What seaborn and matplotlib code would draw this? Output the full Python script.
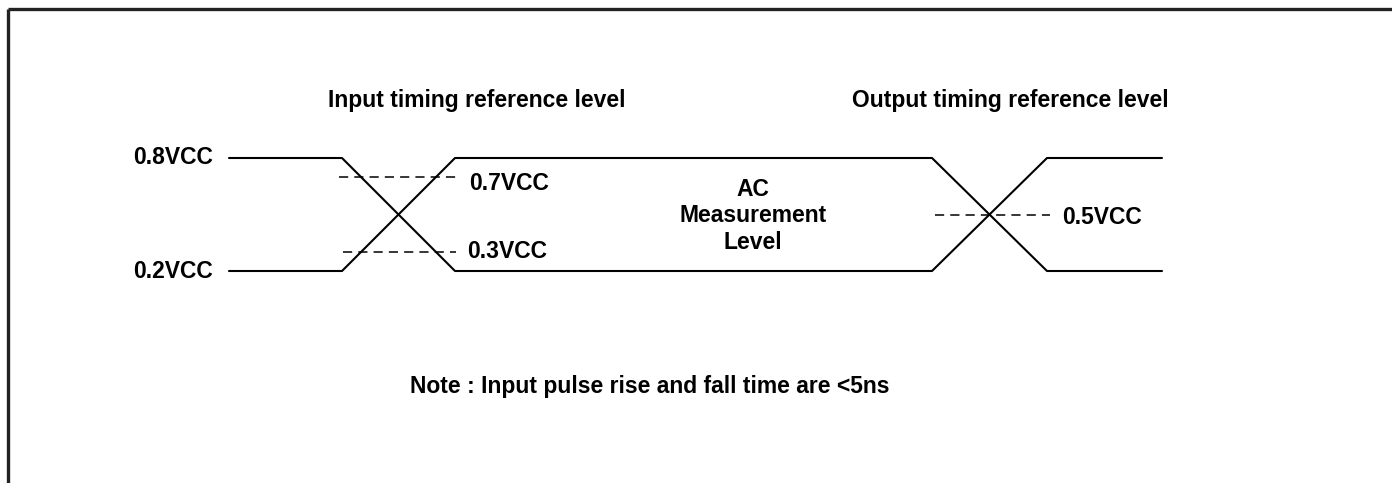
import pandas as pd
import matplotlib
matplotlib.use("Agg")
import matplotlib.pyplot as plt
import seaborn as sns

# time axis (arbitrary units) and voltage levels as fraction of VCC
t_points = [229, 342, 455, 932, 1047, 1162]
sig_a = [0.8, 0.8, 0.2, 0.2, 0.8, 0.8]
sig_b = [0.2, 0.2, 0.8, 0.8, 0.2, 0.2]

ref_levels = [0.7, 0.3, 0.5]
ref_start = [339, 343, 935]
ref_end = [456, 456, 1050]
ref_labels = ["0.7VCC", "0.3VCC", "0.5VCC"]

rail_levels = [0.8, 0.2]
rail_labels = ["0.8VCC", "0.2VCC"]

W, H = 1392, 483
PX_PER_V = 113 / 0.6


def yv(p):
    # pixel row -> VCC units
    return 0.8 - (p - 158) / PX_PER_V


sns.set_style("white")
plt.rcParams["font.family"] = ["Liberation Sans", "DejaVu Sans"]

fig = plt.figure(figsize=(W / 100, H / 100), dpi=100)
ax = fig.add_axes([0, 0, 1, 1])

wave = pd.DataFrame({
    "t": t_points * 2,
    "v": sig_a + sig_b,
    "sig": ["a"] * len(t_points) + ["b"] * len(t_points),
})
for name, grp in wave.groupby("sig"):
    sns.lineplot(data=grp, x="t", y="v", sort=False, color="black",
                 linewidth=1.5, ax=ax, legend=False)

for lv, x0, x1 in zip(ref_levels, ref_start, ref_end):
    ref = pd.DataFrame({"t": [x0, x1], "v": [lv, lv]})
    sns.lineplot(data=ref, x="t", y="v", color="black", linewidth=1.1,
                 linestyle=(0, (6, 4)), ax=ax, legend=False)

ax.set_xlim(0, W)
ax.set_ylim(yv(H), yv(0))
ax.axis("off")

# frame (only top/left edges are visible in the crop)
ax.plot([8, W], [yv(9), yv(9)], color="#222222", lw=2.4, solid_capstyle="butt")
ax.plot([8, 8], [yv(9), yv(H)], color="#222222", lw=2.4, solid_capstyle="butt")

fs = 16.5
kw = dict(fontsize=fs, fontweight="bold", color="black")
for lv, lab in zip(rail_levels, rail_labels):
    ax.text(213, lv, lab, ha="right", va="center", **kw)

ax.text(469, yv(184), ref_labels[0], ha="left", va="center", **kw)
ax.text(467, yv(251), ref_labels[1], ha="left", va="center", **kw)
ax.text(1062, yv(217), ref_labels[2], ha="left", va="center", **kw)

ax.text(477, yv(100), "Input timing reference level", ha="center", va="center", **kw)
ax.text(1010, yv(100), "Output timing reference level", ha="center", va="center", **kw)
ax.text(753, yv(216), "AC\nMeasurement\nLevel", ha="center", va="center",
        linespacing=1.17, **kw)
ax.text(650, yv(386), "Note : Input pulse rise and fall time are <5ns",
        ha="center", va="center", **kw)

fig.savefig("out.png", dpi=100, facecolor="white")
